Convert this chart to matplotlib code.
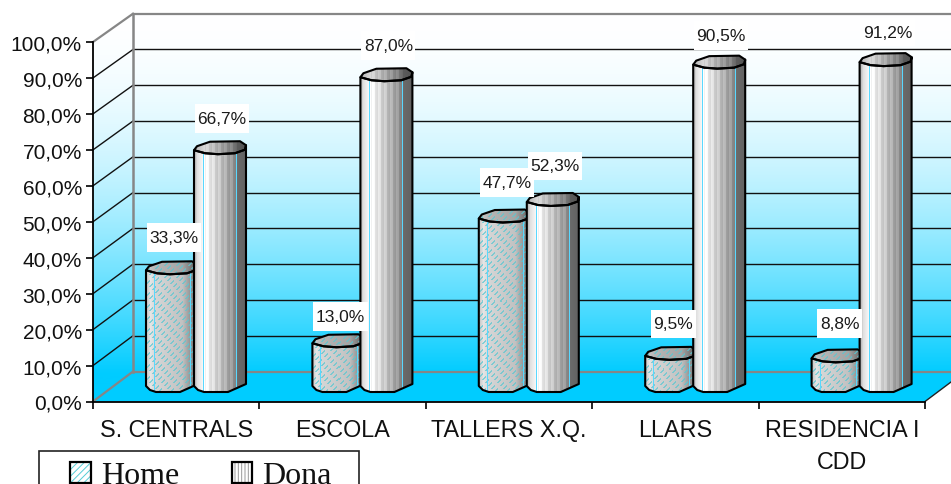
import numpy as np
import matplotlib
matplotlib.use("Agg")
import matplotlib.pyplot as plt
from matplotlib.patches import Polygon, Rectangle
from matplotlib.path import Path
from matplotlib.legend_handler import HandlerBase
from matplotlib.ticker import FuncFormatter

categories = ["S. CENTRALS", "ESCOLA", "TALLERS X.Q.", "LLARS", "RESIDENCIA I\nCDD"]
home = [33.3, 13.0, 47.7, 9.5, 8.8]
dona = [66.7, 87.0, 52.3, 90.5, 91.2]
series_names = ["Home", "Dona"]

W, H = 951, 485
L, R, B, T = 93, 925, 402.5, 43
PT = 0.72  # points per pixel at dpi 100
fig = plt.figure(figsize=(W / 100, H / 100), dpi=100, facecolor="white")
ax = fig.add_axes([L / W, 1 - B / H, (R - L) / W, (B - T) / H])
SX = 5 / (R - L)      # categories per pixel
SY = 100 / (B - T)    # percent per pixel
DX, DY = 40 * SX, 30 * SY   # depth of the 3D box
BK = 357.8 / 359.5          # back wall scale


def back(k):
    return DY + k * BK


SANS = "Liberation Sans"
SERIF = "Liberation Serif"
CYAN = np.array([0, 204, 255]) / 255
GRAY = "#868686"

# walls ------------------------------------------------------------------
tt = np.clip(np.linspace(0, back(100) / 100, 512), 0, 1) ** 1.8
grad = tt[:, None, None]
grad_img = (1 - grad) * np.ones(3) + grad * CYAN
wall = Polygon([(0, 0), (0, 100), (DX, back(100)), (5 + DX, back(100)), (5 + DX, DY), (5, 0)],
               transform=ax.transData, fc="none", ec="none")
im = ax.imshow(grad_img, extent=(0, 5 + DX, 0, back(100)), aspect="auto", zorder=0)
im.set_clip_path(wall)
im.set_clip_box(fig.bbox)
ax.add_patch(Polygon([(0, 0), (DX, DY), (5 + DX, DY), (5, 0)], fc=CYAN, ec="none", zorder=0.5,
                     clip_on=False))
for k in range(0, 101, 10):
    c = GRAY if k in (0, 100) else "#111111"
    lw = 1.6 if k in (0, 100) else 1.0
    ax.plot([DX, 5 + DX], [back(k), back(k)], color=c, lw=lw, zorder=1, clip_on=False)
    ax.plot([0, DX], [k, back(k)], color=c, lw=lw, zorder=1, clip_on=False)
ax.plot([DX, DX], [DY, back(100)], color=GRAY, lw=1.8, zorder=1, clip_on=False)
ax.plot([5, 5 + DX], [0, DY], color="#222222", lw=1.0, zorder=1, clip_on=False)


# columns ----------------------------------------------------------------
TOP_SHAPE = [(0, -1), (3, -5), (16, -9.5), (46, -10), (52, -6), (51, -1.5), (41, 2), (24, 3), (11, 2)]
FRONT_SHAPE = [(0, -1), (11, 2), (24, 3), (41, 2), (51, -1.5), (52, -6)]
BOTTOM_SHAPE = [(52, -7), (43, -3), (34, 1), (10, 1), (4, -1), (0, -5)]
WIDTH = 52
BASE = 10.5 * SY


def profile(kind, u):
    if kind == "Home":
        return np.interp(u, [0, 4, 9, 36, 47, 52], [.78, .90, .84, .76, .52, .42])
    g = np.interp(u, [0, 3, 10, 36, 41, 43, 52], [.70, .88, 1.0, .62, .55, .42, .38])
    g = g + np.where((u // 3) % 2 == 0, .04, -.04) * ((u > 10) & (u < 42))
    return np.clip(g, 0, 1)


def texture(kind, height, shade=1.0):
    rows = int(round(height))
    u = np.arange(WIDTH)
    g = profile(kind, u)[None, :] * shade
    img = np.repeat(g[:, :, None], 3, axis=2).repeat(rows, axis=0)
    if kind == "Home":
        jj, ii = np.meshgrid(u, np.arange(rows))
        mask = (((ii + jj) % 6) < 2) & (((jj - ii) % 12) < 7)
        tint = np.array([.35, .78, .82])
        img[mask] = img[mask] * .3 + tint * .7
    if shade == 1.0:
        img[:, [8, 44] if kind == "Home" else [9, 42]] = np.array([.35, .85, 1.0])
    return img


def column(kind, xstart, value, z):
    x0 = xstart
    to_xy_top = lambda p: (x0 + p[0] * SX, BASE + value - p[1] * SY)
    to_xy_bot = lambda p: (x0 + p[0] * SX, BASE - p[1] * SY)
    body = [to_xy_top(p) for p in FRONT_SHAPE]
    body += [to_xy_bot(p) for p in BOTTOM_SHAPE]
    top = [to_xy_top(p) for p in TOP_SHAPE]
    y_lo = BASE - 3 * SY
    y_hi = BASE + value + 12 * SY
    rows = (y_hi - y_lo) / SY
    i1 = ax.imshow(texture(kind, rows), extent=(x0, x0 + WIDTH * SX, y_lo, y_hi), aspect="auto",
                   interpolation="nearest", zorder=z)
    i1.set_clip_path(Polygon(body, closed=True, transform=ax.transData))
    i1.set_clip_box(fig.bbox)
    i2 = ax.imshow(texture(kind, rows, 0.85), extent=(x0, x0 + WIDTH * SX, y_lo, y_hi),
                   aspect="auto", interpolation="nearest", zorder=z + .1)
    i2.set_clip_path(Polygon(top, closed=True, transform=ax.transData))
    i2.set_clip_box(fig.bbox)
    for pts in (body, top):
        ax.add_patch(Polygon(pts, closed=True, fc="none", ec="black", lw=1.5, joinstyle="round",
                             zorder=z + .2, clip_on=False))


H_OFF = 53 * SX
D_OFF = 101 * SX
for i, (h, d) in enumerate(zip(home, dona)):
    column("Home", i + H_OFF, h, 2 + i)
    column("Dona", i + D_OFF, d, 2.5 + i)


def fmt(v):
    return f"{v:.1f}%".replace(".", ",")


def label_box(x0, y0, w, h, mutation_size):
    px, py = 3.5 * PT, 9.5 * PT
    x1, y1 = x0 + w + px, y0 + h + py
    x0, y0 = x0 - px, y0 - py
    return Path([(x0, y0), (x1, y0), (x1, y1), (x0, y1), (x0, y0)], closed=True)


lift_home = [34, 28, 37, 33, 36]
lift_dona = [33, 33, 37, 30, 31]
for i, (h, d) in enumerate(zip(home, dona)):
    for off, v, lift in ((H_OFF, h, lift_home[i]), (D_OFF, d, lift_dona[i])):
        ax.annotate(fmt(v), xy=(i + off + 28 * SX, BASE + v), xytext=(0, lift * PT),
                    textcoords="offset points", ha="center", va="center",
                    family=SANS, fontsize=12.5, color="#1a1a1a", zorder=20,
                    bbox=dict(boxstyle=label_box, fc="white", ec="none"))

# axes -------------------------------------------------------------------
ax.set_xlim(0, 5)
ax.set_ylim(0, 100)
ax.set_axisbelow(False)
for s in ("top", "right"):
    ax.spines[s].set_visible(False)
for s in ("left", "bottom"):
    ax.spines[s].set_linewidth(1.3)
    ax.spines[s].set_zorder(15)
ax.patch.set_visible(False)
ax.set_yticks(np.arange(0, 101, 10))
ax.yaxis.set_major_formatter(FuncFormatter(lambda v, _: fmt(v)))
ax.tick_params(axis="y", length=5, width=1.2, pad=3, labelsize=15, labelcolor="#111111")
ax.set_xticks(np.arange(6))
ax.set_xticklabels([])
ax.tick_params(axis="x", which="major", length=5, width=1.2)
ax.set_xticks(np.arange(5) + .5, minor=True)
ax.set_xticklabels(categories, minor=True, fontsize=16.8, family=SANS, color="#111111",
                   linespacing=1.5)
ax.tick_params(axis="x", which="minor", length=0, pad=12)
for t in ax.get_yticklabels():
    t.set_family(SANS)


# legend -----------------------------------------------------------------
class SwatchHandler(HandlerBase):
    def create_artists(self, legend, orig, xd, yd, w, h, fontsize, trans):
        hatch, col = orig.hatch_spec
        a = Rectangle((-xd, -yd), w, h, fc="white", ec=col, hatch=hatch, lw=0, transform=trans)
        b = Rectangle((-xd, -yd), w, h, fc="none", ec="black", lw=1.6, transform=trans)
        return [a, b]


plt.rcParams["hatch.linewidth"] = 0.7
fig.add_artist(Rectangle((39 / W, -0.05), 320 / W, 1 - 452 / H + 0.05, transform=fig.transFigure,
                         fc="white", ec="#222222", lw=1.2))
h1 = Rectangle((0, 0), 1, 1)
h1.hatch_spec = ("/////", "#55cdd6")
h2 = Rectangle((0, 0), 1, 1)
h2.hatch_spec = ("|||||", "#999999")
leg = fig.legend([h1, h2], series_names, loc="upper left",
                 bbox_to_anchor=(57 / W, 1 - 449 / H), bbox_transform=fig.transFigure,
                 ncol=2, frameon=False, borderaxespad=0, borderpad=0.42,
                 handlelength=.63, handleheight=.62,
                 handletextpad=.32, columnspacing=1.66,
                 handler_map={Rectangle: SwatchHandler()},
                 prop={"family": SERIF, "size": 23})
for t in leg.get_texts():
    t.set_color("#111111")

fig.savefig("out.png", dpi=100)
